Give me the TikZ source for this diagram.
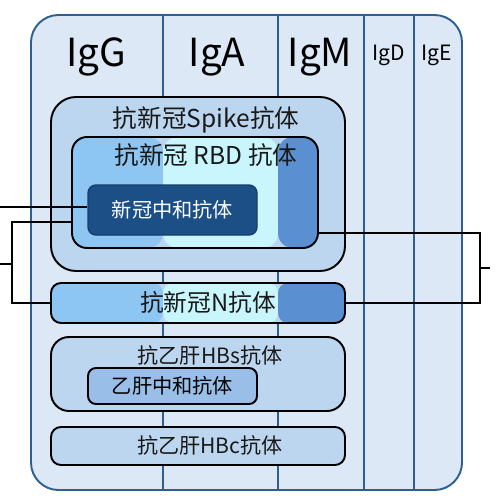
\documentclass[tikz,border=0pt]{standalone}
\usepackage{fontspec}
\setmainfont{Noto Sans CJK SC}
\usetikzlibrary{positioning}

\definecolor{panelfill}{HTML}{DCE8F5}
\definecolor{panelline}{HTML}{2E5F8F}
\definecolor{spikefill}{HTML}{BCD6EF}
\definecolor{skyfill}{HTML}{8DC5F3}
\definecolor{cyanfill}{HTML}{C9F6FC}
\definecolor{midfill}{HTML}{5A8FD2}
\definecolor{neufill}{HTML}{1B4F86}
\definecolor{hbsnfill}{HTML}{99BEE8}

\tikzset{
  abox/.style={draw=black, line width=1.1pt, fill=spikefill},
  tri/.style={path picture={
      \fill[skyfill] (path picture bounding box.south west) rectangle (path picture bounding box.north -| colA);
      \fill[cyanfill] (path picture bounding box.south -| colA) rectangle (path picture bounding box.north -| colB);
      \fill[midfill] (path picture bounding box.south -| colB) rectangle (path picture bounding box.north east);
  }},
  hdr/.style={font=\fontsize{22}{26}\selectfont},
  hdrs/.style={font=\fontsize{12}{14}\selectfont},
  lbl/.style={font=\fontsize{14}{16}\selectfont, text=black!90},
  lbls/.style={font=\fontsize{12}{14}\selectfont, text=black!90},
  link/.style={draw=black, line width=1.1pt},
}

\begin{document}
\begin{tikzpicture}[x=0.02cm, y=-0.02cm]
    \def\u{0.02cm} % one pixel
    \useasboundingbox (0,0) rectangle (500,500);

    % Outer panel with the five columns
    \draw[panelline, fill=panelfill, line width=1.1pt, rounded corners=0.55cm] (31,15) rectangle (462,490);
    \coordinate (colA) at (163,15);
    \coordinate (colB) at (278,15);
    \foreach \cx in {163,278,364,414} {
        \draw[panelline, line width=1.1pt] (\cx,15) -- (\cx,490); % column divider
    }
    \node[hdr]  (igg) at (96,57)  {IgG};
    \node[hdr]  (iga) at (217,57) {IgA};
    \node[hdr]  (igm) at (320,57) {IgM};
    \node[hdrs] (igd) at (389,55) {IgD};
    \node[hdrs] (ige) at (437,55) {IgE};

    %
    % SARS-CoV-2 antibodies
    %
    \node[abox, rounded corners=0.5cm, minimum width=294*\u, minimum height=174*\u] (spike) at (198,184) {};
    \node[lbl] (spikelbl) at (206,120) {抗新冠Spike抗体};
    \node[abox, tri, rounded corners=0.3cm, minimum width=246*\u, minimum height=111*\u] (rbd) at (195,192.5) {};
    \node[lbl] (rbdlbl) at (206,155) {抗新冠 RBD 抗体};
    \node[draw=neufill!80!black, fill=neufill, line width=0.8pt, rounded corners=0.16cm,
          minimum width=169*\u, minimum height=50*\u, text=white, font=\fontsize{11.5}{14}\selectfont] (neu) at (172.5,210) {新冠中和抗体};
    \node[abox, tri, rounded corners=0.2cm, minimum width=294*\u, minimum height=40*\u] (nab) at (198,303) {};
    \node[font=\fontsize{13.5}{16}\selectfont, text=black!90] (nablbl) at (208,302) {抗新冠N抗体};

    %
    % HBV antibodies
    %
    \node[abox, rounded corners=0.36cm, minimum width=294*\u, minimum height=74*\u] (hbs) at (198,374) {};
    \node[lbls] (hbslbl) at (210,355) {抗乙肝HBs抗体};
    \node[abox, fill=hbsnfill, rounded corners=0.16cm, minimum width=169*\u, minimum height=36*\u,
          font=\fontsize{11.5}{14}\selectfont] (hbsn) at (172.5,386) {乙肝中和抗体};
    \node[abox, rounded corners=0.2cm, minimum width=294*\u, minimum height=38*\u] (hbc) at (198,446) {};
    \node[lbls] (hbclbl) at (210,445) {抗乙肝HBc抗体};

    %
    % Brackets on both sides
    %
    \coordinate (lin) at (0,207);    % line into neutralizing box
    \draw[link] (lin) -- (lin -| neu.west);
    \coordinate (lbrk) at (12,222);  % left bracket corner
    \draw[link] (lbrk -| rbd.west) -- (lbrk) |- (nab.west);
    \coordinate (ltick) at (0,264);
    \draw[link] (ltick) -- (ltick -| lbrk);
    \coordinate (rbrk) at (480,233); % right bracket corner
    \draw[link] (rbrk -| rbd.east) -- (rbrk) |- (nab.east);
    \coordinate (rtick) at (490,268);
    \draw[link] (rtick) -- (rtick -| rbrk);
\end{tikzpicture}
\end{document}
